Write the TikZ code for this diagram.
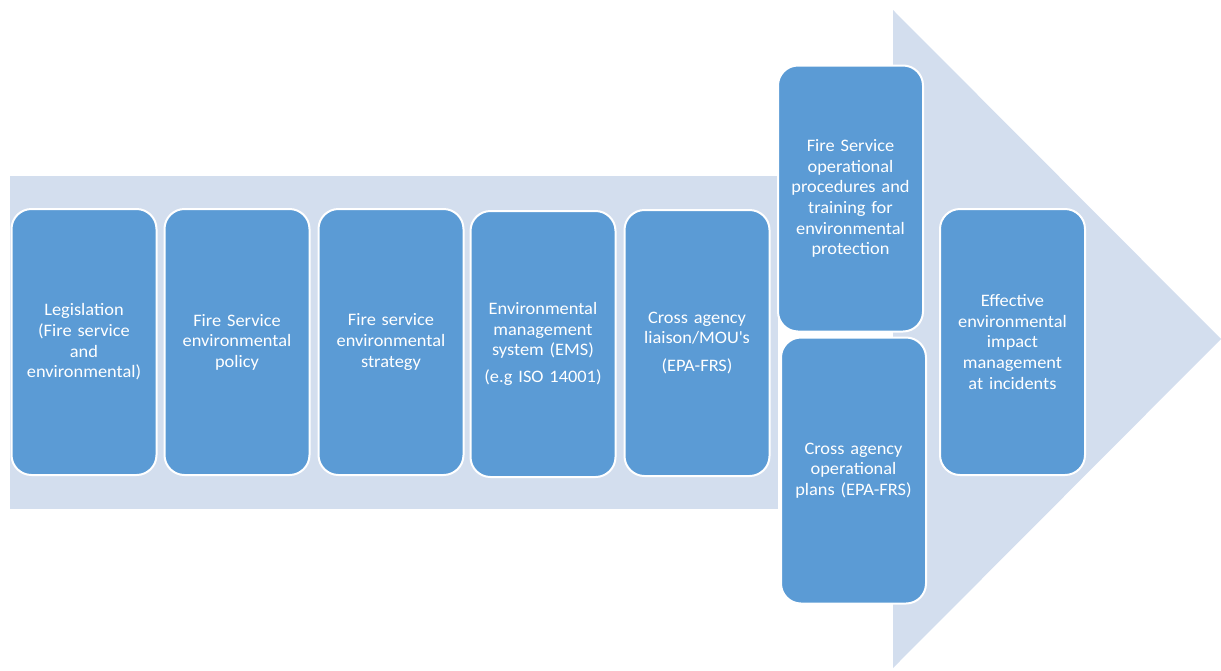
\documentclass[tikz,border=0pt]{standalone}
\usepackage{fontspec}
\setmainfont{Carlito}[FakeStretch=1.05]
\usetikzlibrary{positioning}

\definecolor{bandblue}{RGB}{211,222,238}
\definecolor{stageblue}{RGB}{91,155,213}

\begin{document}
\begin{tikzpicture}[
    x=1pt, y=-1pt,
    node distance=6pt,
    stage/.style={rectangle, rounded corners=20pt, draw=white, line width=2pt, fill=stageblue, text=white, text width=138pt, align=center, minimum width=145pt, minimum height=266pt, inner sep=2pt, font=\fontsize{17.5}{20.6}\selectfont},
    band/.style={fill=bandblue, draw=none}
]
\useasboundingbox (0,0) rectangle (1221,670);

% Flecha de fondo
\fill[band] (10,176) rectangle (778,509);
\fill[band] (893,10) -- (1221,339) -- (893,668) -- cycle;

% Etapas
\node[stage] (legis) at (84,342) {Legislation\\(Fire service\\and\\environmental)};
\node[stage, right=of legis] (policy) {Fire Service\\environmental\\policy};
\node[stage, right=7pt of policy] (strategy) {Fire service\\environmental\\strategy};
\node[stage, right=5pt of strategy, yshift=-2pt] (ems) {Environmental\\management\\system (EMS)\\[6pt](e.g ISO 14001)};
\node[stage, right=7pt of ems, yshift=1pt] (liaison) {Cross agency\\liaison/MOU\textquotesingle s\\[7pt](EPA-FRS)};
\node[stage] (ops) at (850.5,198.5) {Fire Service\\operational\\procedures and\\training for\\environmental\\protection};
\node[stage, below=4pt of ops, xshift=3pt] (plans) {Cross agency\\operational\\plans (EPA-FRS)};
\node[stage] (impact) at (1012.5,342) {Effective\\environmental\\impact\\management\\at incidents};

\end{tikzpicture}
\end{document}
